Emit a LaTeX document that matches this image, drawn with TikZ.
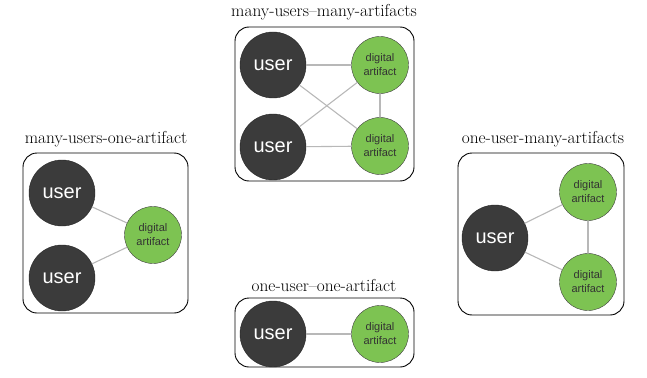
\documentclass[tikz,border=0pt]{standalone}
\usepackage{fontspec}
\newfontfamily\arialfont{Liberation Sans}
\usetikzlibrary{positioning}

\definecolor{userfill}{HTML}{3B3B3B}
\definecolor{artfill}{HTML}{7DC352}
\definecolor{linkgray}{HTML}{B8B8B8}

\tikzset{
  user/.style={circle, fill=userfill, draw=black!85, minimum size=66pt, inner sep=0pt,
    text=white, font=\arialfont\fontsize{20}{24}\selectfont},
  artifact/.style={circle, fill=artfill, draw=black!75, minimum size=57pt, inner sep=0pt,
    align=center, text=black!80, font=\arialfont\fontsize{11}{14}\selectfont},
  link/.style={draw=linkgray, line width=1.1pt},
  frame/.style={draw=black, rounded corners=14pt, line width=0.9pt},
  title/.style={font=\fontsize{17.3}{20}\selectfont}
}

\begin{document}
\begin{tikzpicture}[x=1pt, y=-1pt]

    \useasboundingbox (0,0) rectangle (647,377);

    % many users -- many artifacts
    \draw[frame] (235,27) rectangle (414,181);
    \node[title] (T1) at (324,12) {many-users--many-artifacts};
    \node[user] (U1) at (273,65) {user};
    \node[user] (U2) at (273,147) {user};
    \node[artifact] (A1) at (380,65) {digital\\artifact};
    \node[artifact] (A2) at (380,146) {digital\\artifact};
    \draw[link] (U1) -- (A1);
    \draw[link] (U1) -- (A2);
    \draw[link] (U2) -- (A1);
    \draw[link] (U2) -- (A2);
    \draw[link] (A1) -- (A2);

    % many users -- one artifact
    \draw[frame] (23,153) rectangle (188,313);
    \node[title] (T2) at (106,139) {many-users-one-artifact};
    \node[user] (U3) at (62,193) {user};
    \node[user] (U4) at (62,278) {user};
    \node[artifact] (A3) at (153,235) {digital\\artifact};
    \draw[link] (U3) -- (A3);
    \draw[link] (U4) -- (A3);

    % one user -- many artifacts
    \draw[frame] (458,153) rectangle (624,315);
    \node[title] (T3) at (543,139) {one-user-many-artifacts};
    \node[user] (U5) at (495,238) {user};
    \node[artifact] (A4) at (588,192) {digital\\artifact};
    \node[artifact] (A5) at (588,282) {digital\\artifact};
    \draw[link] (U5) -- (A4);
    \draw[link] (U5) -- (A5);
    \draw[link] (A4) -- (A5);

    % one user -- one artifact
    \draw[frame] (235,298) rectangle (414,367);
    \node[title] (T4) at (324,285) {one-user--one-artifact};
    \node[user] (U6) at (273,334) {user};
    \node[artifact] (A6) at (380,334) {digital\\artifact};
    \draw[link] (U6) -- (A6);

\end{tikzpicture}
\end{document}
